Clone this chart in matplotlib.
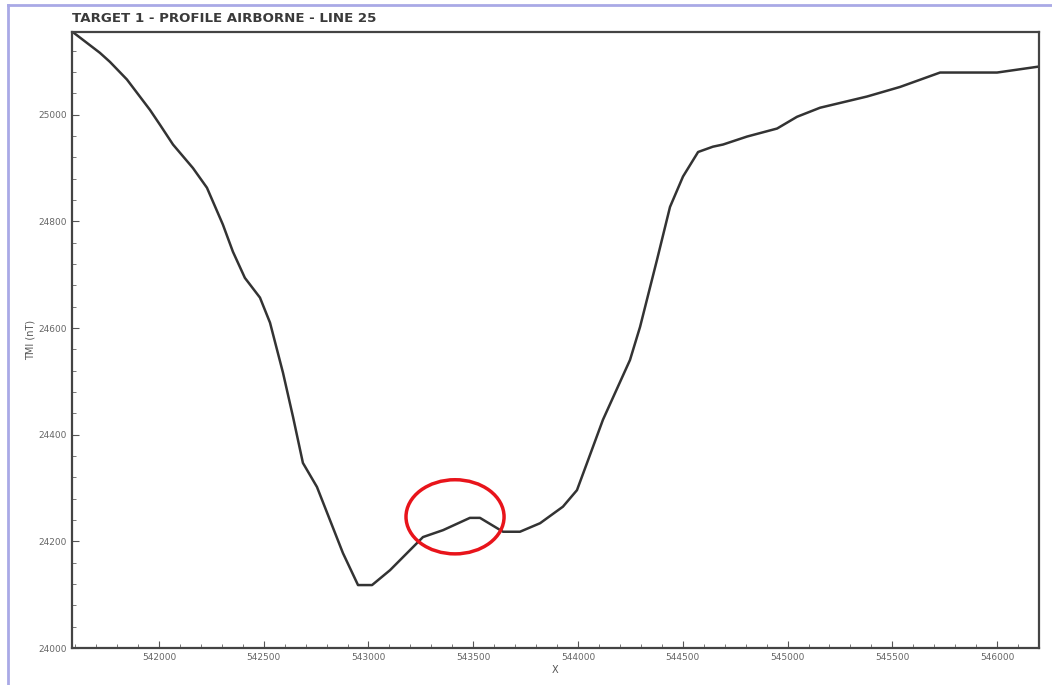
import numpy as np
import matplotlib
matplotlib.use('Agg')
import matplotlib.pyplot as plt
from matplotlib.patches import Ellipse
from matplotlib.ticker import MultipleLocator

# 航空磁気プロファイル (読み取り値)
x_pos = [541585, 541718, 541766, 541847, 541957, 542005, 542067, 542162, 542229,
         542305, 542353, 542410, 542482, 542530, 542592, 542640, 542687, 542754,
         542816, 542878, 542950, 543017, 543103, 543184, 543260, 543356, 543484,
         543532, 543642, 543723, 543819, 543928, 543995, 544043, 544119, 544248,
         544296, 544377, 544439, 544501, 544573, 544644, 544692, 544807, 544950,
         545045, 545155, 545379, 545537, 545728, 545838, 546000, 546196]
tmi = [25156, 25116, 25099, 25066, 25009, 24981, 24944, 24900, 24863,
       24794, 24743, 24694, 24657, 24610, 24516, 24433, 24347, 24302,
       24240, 24178, 24118, 24118, 24146, 24178, 24208, 24221, 24244,
       24244, 24218, 24218, 24234, 24265, 24296, 24347, 24428, 24540,
       24602, 24728, 24827, 24884, 24930, 24940, 24944, 24959, 24974,
       24996, 25013, 25034, 25052, 25079, 25079, 25079, 25090]

title = 'TARGET 1 - PROFILE AIRBORNE - LINE 25'

fig = plt.figure(figsize=(10.52, 6.85), dpi=100)
ax = fig.add_axes([72 / 1052, 1 - 648 / 685, 967 / 1052, 616 / 685])

ax.plot(x_pos, tmi, color='#333333', lw=1.8)

# 赤い楕円で注目箇所を囲む
ax.add_patch(Ellipse((543413, 24246), 468, 139, fill=False, edgecolor='#e8141b', lw=2.5, zorder=6))

ax.set_xlim(541585, 546200)
ax.set_ylim(24000, 25155)
ax.xaxis.set_major_locator(MultipleLocator(500))
ax.xaxis.set_minor_locator(MultipleLocator(100))
ax.yaxis.set_major_locator(MultipleLocator(200))
ax.yaxis.set_minor_locator(MultipleLocator(40))
ax.ticklabel_format(useOffset=False, style='plain')
ax.tick_params(which='major', direction='in', length=5, width=0.8, color='#555555',
               labelsize=6.5, labelcolor='#666666')
ax.tick_params(which='minor', direction='in', length=3, width=0.7, color='#777777')
for s in ax.spines.values():
    s.set_color('#444444')
    s.set_linewidth(1.6)

ax.set_xlabel('X', fontsize=7, color='#555555', labelpad=2)
ax.set_ylabel('TMI (nT)', fontsize=7, color='#555555', labelpad=2)
fig.text(72 / 1052, 1 - 18 / 685, title, fontsize=9.6, fontweight='bold',
         color='#3a3a3a', ha='left', va='center')

# 外枠 (薄紫)
fig.add_artist(plt.Line2D([8 / 1052, 8 / 1052], [0, 1 - 5 / 685], color='#a9a9e6', lw=2))
fig.add_artist(plt.Line2D([8 / 1052, 1], [1 - 5 / 685, 1 - 5 / 685], color='#a9a9e6', lw=2))

fig.savefig('out.png', dpi=100)
